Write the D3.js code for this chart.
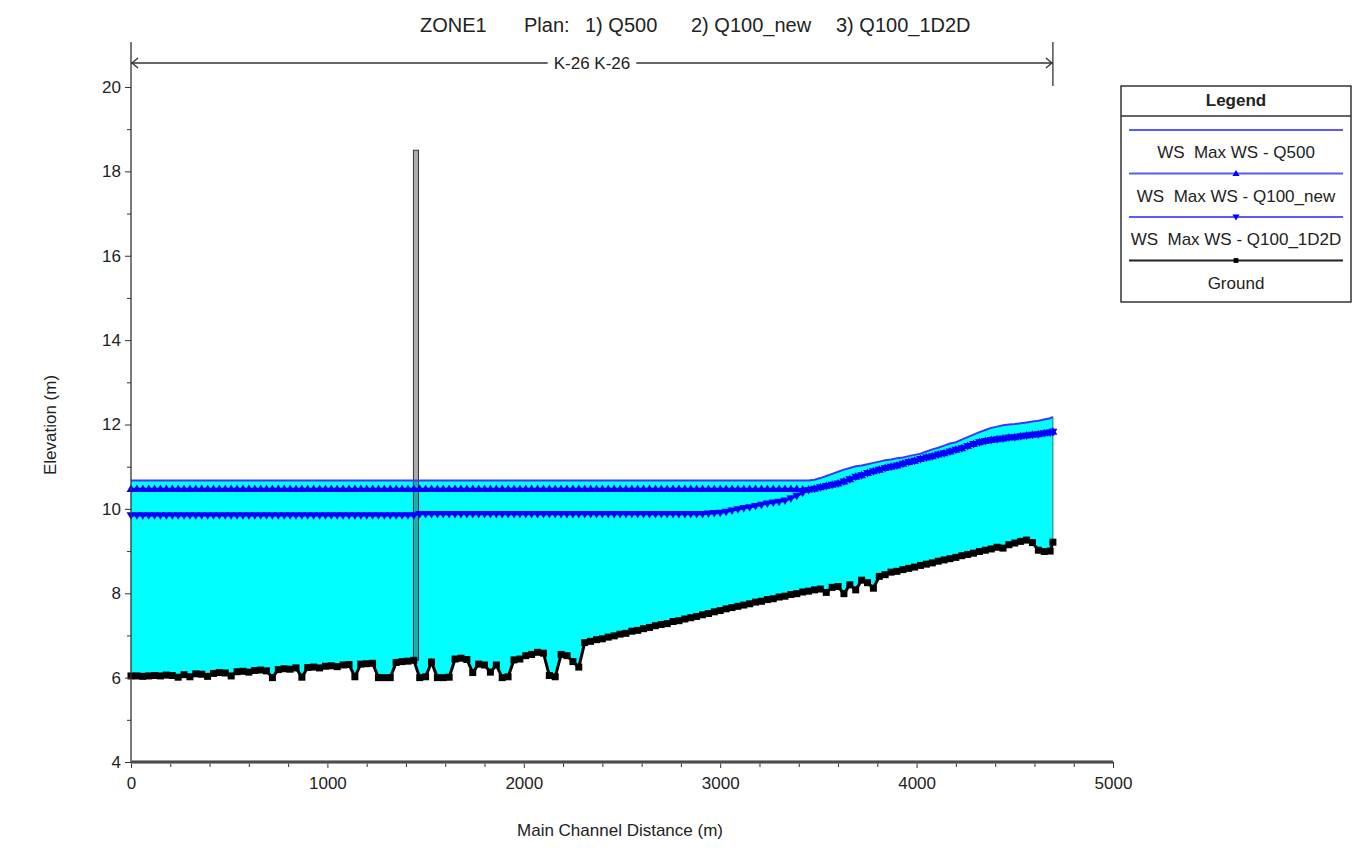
<!DOCTYPE html>
<html>
<head>
<meta charset="utf-8">
<script src="https://cdn.jsdelivr.net/npm/d3@7"></script>
<style>
body { margin: 0; background: #fff; }
text { font-family: "Liberation Sans", Arial, sans-serif; fill: #222; }
</style>
</head>
<body>
<svg id="chart" width="1369" height="851"></svg>
<script>
// profile data (station in m, elevation in m)
var stations = [
  0, 30, 60, 90, 120, 150, 180, 210, 240, 270,
  300, 330, 360, 390, 420, 450, 480, 510, 540, 570,
  600, 630, 660, 690, 720, 750, 780, 810, 840, 870,
  900, 930, 960, 990, 1020, 1050, 1080, 1110, 1140, 1170,
  1200, 1230, 1260, 1290, 1320, 1350, 1380, 1410, 1440, 1470,
  1500, 1530, 1560, 1590, 1620, 1650, 1680, 1710, 1740, 1770,
  1800, 1830, 1860, 1890, 1920, 1950, 1980, 2010, 2040, 2070,
  2100, 2130, 2160, 2190, 2220, 2250, 2280, 2310, 2340, 2370,
  2400, 2430, 2460, 2490, 2520, 2550, 2580, 2610, 2640, 2670,
  2700, 2730, 2760, 2790, 2820, 2850, 2880, 2910, 2940, 2970,
  3000, 3030, 3060, 3090, 3120, 3150, 3180, 3210, 3240, 3270,
  3300, 3330, 3360, 3390, 3420, 3450, 3480, 3510, 3540, 3570,
  3600, 3630, 3660, 3690, 3720, 3750, 3780, 3810, 3840, 3870,
  3900, 3930, 3960, 3990, 4020, 4050, 4080, 4110, 4140, 4170,
  4200, 4230, 4260, 4290, 4320, 4350, 4380, 4410, 4440, 4470,
  4500, 4530, 4560, 4590, 4620, 4650, 4680, 4694
];

var ground = [
  6.04, 6.04, 6.03, 6.04, 6.05, 6.04, 6.06, 6.05, 6.01, 6.07,
  6.02, 6.09, 6.08, 6.03, 6.10, 6.12, 6.11, 6.04, 6.14, 6.15,
  6.13, 6.17, 6.18, 6.16, 6.00, 6.19, 6.21, 6.20, 6.23, 6.01,
  6.24, 6.25, 6.23, 6.27, 6.28, 6.26, 6.30, 6.31, 6.02, 6.32,
  6.33, 6.34, 6.00, 6.00, 6.00, 6.36, 6.38, 6.39, 6.41, 6.00,
  6.02, 6.37, 6.00, 6.00, 6.01, 6.44, 6.46, 6.43, 6.12, 6.32,
  6.30, 6.13, 6.30, 6.00, 6.02, 6.42, 6.44, 6.52, 6.55, 6.60,
  6.58, 6.05, 6.02, 6.55, 6.52, 6.38, 6.25, 6.83, 6.86, 6.90,
  6.92, 6.96, 6.99, 7.03, 7.05, 7.10, 7.12, 7.16, 7.19, 7.23,
  7.26, 7.28, 7.33, 7.35, 7.39, 7.42, 7.45, 7.49, 7.52, 7.56,
  7.59, 7.63, 7.66, 7.69, 7.72, 7.75, 7.79, 7.81, 7.85, 7.87,
  7.91, 7.93, 7.97, 7.99, 8.03, 8.05, 8.08, 8.10, 8.02, 8.14,
  8.16, 7.99, 8.20, 8.08, 8.31, 8.25, 8.12, 8.40, 8.44, 8.50,
  8.52, 8.56, 8.59, 8.62, 8.66, 8.69, 8.72, 8.76, 8.79, 8.82,
  8.85, 8.89, 8.92, 8.95, 8.99, 9.02, 9.05, 9.09, 9.07, 9.15,
  9.19, 9.23, 9.26, 9.20, 9.02, 8.99, 9.00, 9.21
];

var ws_q500 = [
  10.67, 10.67, 10.67, 10.67, 10.67, 10.67, 10.67, 10.67, 10.67, 10.67,
  10.67, 10.67, 10.67, 10.67, 10.67, 10.67, 10.67, 10.67, 10.67, 10.67,
  10.67, 10.67, 10.67, 10.67, 10.67, 10.67, 10.67, 10.67, 10.67, 10.67,
  10.67, 10.67, 10.67, 10.67, 10.67, 10.67, 10.67, 10.67, 10.67, 10.67,
  10.67, 10.67, 10.67, 10.67, 10.67, 10.67, 10.67, 10.67, 10.67, 10.67,
  10.67, 10.67, 10.67, 10.67, 10.67, 10.67, 10.67, 10.67, 10.67, 10.67,
  10.67, 10.67, 10.67, 10.67, 10.67, 10.67, 10.67, 10.67, 10.67, 10.67,
  10.67, 10.67, 10.67, 10.67, 10.67, 10.67, 10.67, 10.67, 10.67, 10.67,
  10.67, 10.67, 10.67, 10.67, 10.67, 10.67, 10.67, 10.67, 10.67, 10.67,
  10.67, 10.67, 10.67, 10.67, 10.67, 10.67, 10.67, 10.67, 10.67, 10.67,
  10.67, 10.67, 10.67, 10.67, 10.67, 10.67, 10.67, 10.67, 10.67, 10.67,
  10.67, 10.67, 10.67, 10.67, 10.67, 10.67, 10.69, 10.73, 10.78, 10.83,
  10.88, 10.93, 10.97, 11.01, 11.03, 11.06, 11.09, 11.12, 11.15, 11.17,
  11.20, 11.22, 11.25, 11.28, 11.31, 11.36, 11.41, 11.45, 11.50, 11.55,
  11.58, 11.64, 11.70, 11.76, 11.82, 11.87, 11.92, 11.95, 11.98, 12.00,
  12.01, 12.03, 12.05, 12.07, 12.09, 12.12, 12.15, 12.18
];

var ws_q100_new = [
  10.47, 10.47, 10.47, 10.47, 10.47, 10.47, 10.47, 10.47, 10.47, 10.47,
  10.47, 10.47, 10.47, 10.47, 10.47, 10.47, 10.47, 10.47, 10.47, 10.47,
  10.47, 10.47, 10.47, 10.47, 10.47, 10.47, 10.47, 10.47, 10.47, 10.47,
  10.47, 10.47, 10.47, 10.47, 10.47, 10.47, 10.47, 10.47, 10.47, 10.47,
  10.47, 10.47, 10.47, 10.47, 10.47, 10.47, 10.47, 10.47, 10.47, 10.47,
  10.47, 10.47, 10.47, 10.47, 10.47, 10.47, 10.47, 10.47, 10.47, 10.47,
  10.47, 10.47, 10.47, 10.47, 10.47, 10.47, 10.47, 10.47, 10.47, 10.47,
  10.47, 10.47, 10.47, 10.47, 10.47, 10.47, 10.47, 10.47, 10.47, 10.47,
  10.47, 10.47, 10.47, 10.47, 10.47, 10.47, 10.47, 10.47, 10.47, 10.47,
  10.47, 10.47, 10.47, 10.47, 10.47, 10.47, 10.47, 10.47, 10.47, 10.47,
  10.47, 10.47, 10.47, 10.47, 10.47, 10.47, 10.47, 10.47, 10.47, 10.47,
  10.47, 10.47, 10.47, 10.47, 10.46, 10.46, 10.48, 10.51, 10.54, 10.57,
  10.60, 10.65, 10.70, 10.76, 10.80, 10.85, 10.89, 10.93, 10.97, 11.00,
  11.03, 11.07, 11.11, 11.14, 11.18, 11.22, 11.25, 11.29, 11.32, 11.36,
  11.40, 11.44, 11.49, 11.54, 11.58, 11.61, 11.63, 11.65, 11.67, 11.69,
  11.70, 11.72, 11.74, 11.76, 11.77, 11.79, 11.81, 11.83
];

var ws_q100_1d2d = [
  9.85, 9.85, 9.85, 9.85, 9.85, 9.85, 9.85, 9.85, 9.85, 9.85,
  9.85, 9.85, 9.85, 9.85, 9.85, 9.85, 9.85, 9.85, 9.85, 9.85,
  9.85, 9.85, 9.85, 9.85, 9.85, 9.85, 9.85, 9.85, 9.85, 9.85,
  9.85, 9.85, 9.85, 9.85, 9.85, 9.85, 9.85, 9.85, 9.85, 9.85,
  9.85, 9.85, 9.85, 9.85, 9.85, 9.85, 9.85, 9.85, 9.85, 9.88,
  9.88, 9.88, 9.88, 9.88, 9.88, 9.88, 9.88, 9.88, 9.88, 9.88,
  9.88, 9.88, 9.88, 9.88, 9.88, 9.88, 9.88, 9.88, 9.88, 9.88,
  9.88, 9.88, 9.88, 9.88, 9.88, 9.88, 9.88, 9.88, 9.88, 9.88,
  9.88, 9.88, 9.88, 9.88, 9.88, 9.88, 9.88, 9.88, 9.88, 9.88,
  9.88, 9.88, 9.88, 9.88, 9.88, 9.88, 9.88, 9.88, 9.89, 9.90,
  9.91, 9.93, 9.96, 9.99, 10.02, 10.04, 10.07, 10.10, 10.13, 10.15,
  10.17, 10.20, 10.25, 10.31, 10.38, 10.45, 10.48, 10.51, 10.54, 10.57,
  10.60, 10.65, 10.70, 10.76, 10.80, 10.85, 10.89, 10.93, 10.97, 11.00,
  11.03, 11.07, 11.11, 11.14, 11.18, 11.22, 11.25, 11.29, 11.32, 11.36,
  11.40, 11.44, 11.49, 11.54, 11.58, 11.61, 11.63, 11.65, 11.67, 11.69,
  11.70, 11.72, 11.74, 11.76, 11.77, 11.79, 11.81, 11.83
];

// inline structure near 1450 m
var bridge_sta = [1438, 1464];
var bridge_top = 18.5;

var x_ticks = [0, 1000, 2000, 3000, 4000, 5000];
var y_ticks = [4, 6, 8, 10, 12, 14, 16, 18, 20];
var title_parts = ["ZONE1", "Plan:", "1) Q500", "2) Q100_new", "3) Q100_1D2D"];
var title_x = [420, 524, 585, 691, 836];
var reach_label = "K-26 K-26";
var legend_labels = ["WS  Max WS - Q500", "WS  Max WS - Q100_new", "WS  Max WS - Q100_1D2D", "Ground"];

var chart = d3.select("#chart");

var x = d3.scaleLinear().domain([0, 5000]).range([131, 1113]);
var y = d3.scaleLinear().domain([4, 20]).range([762, 87]);

var rows = stations.map(function (s, i) {
  return { sta: s, gr: ground[i], q500: ws_q500[i], qnew: ws_q100_new[i], q1d2d: ws_q100_1d2d[i] };
});

var blue = "#0000ff";
var line_blue = "#3a3aff";

// water fill between ground and highest water surface
chart.append("path")
     .datum(rows)
     .attr("d", d3.area().x(function (d) { return x(d.sta); })
                         .y0(function (d) { return y(d.gr); })
                         .y1(function (d) { return y(d.q500); }))
     .attr("fill", "#00ffff");

// right edge of the water
var last = rows[rows.length - 1];
chart.append("line")
     .attr("x1", x(last.sta)).attr("x2", x(last.sta))
     .attr("y1", y(last.q500)).attr("y2", y(last.gr))
     .attr("stroke", "#2f6f6f").attr("stroke-width", 1);

// structure
var bridge_ground = ground[stations.indexOf(1440)];
chart.append("rect")
     .attr("x", x(bridge_sta[0]))
     .attr("y", y(bridge_top))
     .attr("width", x(bridge_sta[1]) - x(bridge_sta[0]))
     .attr("height", y(bridge_ground) - y(bridge_top))
     .attr("fill", "rgba(70,70,70,0.45)")
     .attr("stroke", "#333")
     .attr("stroke-width", 1);

function draw_series (key, col, width) {
  chart.append("path")
       .datum(rows)
       .attr("d", d3.line().x(function (d) { return x(d.sta); })
                           .y(function (d) { return y(d[key]); }))
       .attr("fill", "none")
       .attr("stroke", col)
       .attr("stroke-width", width);
}

var tri_up = "M0,-4.5L4.5,3L-4.5,3Z";
var tri_down = "M0,4.5L4.5,-3L-4.5,-3Z";
var square = "M-3.5,-3.5h7v7h-7Z";

function draw_markers (key, shape, col) {
  chart.append("g").selectAll("path")
       .data(rows)
       .enter().append("path")
       .attr("transform", function (d) { return "translate(" + x(d.sta) + "," + y(d[key]) + ")"; })
       .attr("d", shape)
       .attr("fill", col);
}

draw_series("q500", line_blue, 2);
draw_series("qnew", blue, 2.5);
draw_markers("qnew", tri_up, blue);
draw_series("q1d2d", blue, 2.5);
draw_markers("q1d2d", tri_down, blue);
draw_series("gr", "#000", 3);
draw_markers("gr", square, "#000");

// axes
var font = "\"Liberation Sans\", Arial, sans-serif";

function style_axis (g) {
  g.select(".domain").remove();
  g.selectAll("line").attr("stroke", "#333");
  g.selectAll("text").attr("font-size", 17).attr("font-family", font).attr("fill", "#222");
}

chart.append("g")
     .attr("transform", "translate(0," + y(4) + ")")
     .call(d3.axisBottom(x).tickValues(x_ticks).tickSize(6).tickPadding(9).tickFormat(d3.format("d")))
     .call(style_axis);
chart.append("g")
     .attr("transform", "translate(0," + y(4) + ")")
     .call(d3.axisBottom(x).tickValues(d3.range(200, 5000, 200).filter(function (v) { return v % 1000; }))
                           .tickSize(5).tickFormat(""))
     .call(style_axis);

chart.append("g")
     .attr("transform", "translate(" + x(0) + ",0)")
     .call(d3.axisLeft(y).tickValues(y_ticks).tickSize(6).tickPadding(4).tickFormat(d3.format("d")))
     .call(style_axis);
chart.append("g")
     .attr("transform", "translate(" + x(0) + ",0)")
     .call(d3.axisLeft(y).tickValues(d3.range(5, 20, 2)).tickSize(4).tickFormat(""))
     .call(style_axis);

// axis lines
chart.append("line")
     .attr("x1", x(0)).attr("x2", x(0)).attr("y1", 42).attr("y2", y(4))
     .attr("stroke", "#333").attr("stroke-width", 1.3);
chart.append("line")
     .attr("x1", x(0)).attr("x2", x(5000)).attr("y1", y(4)).attr("y2", y(4))
     .attr("stroke", "#777").attr("stroke-width", 3.5);
chart.append("line")
     .attr("x1", x(0)).attr("x2", x(5000)).attr("y1", y(4)).attr("y2", y(4))
     .attr("stroke", "#222").attr("stroke-width", 1);

// reach bracket
var rx0 = x(stations[0]), rx1 = x(stations[stations.length - 1]), ry = 63;
chart.append("line").attr("x1", rx0).attr("x2", rx1).attr("y1", ry).attr("y2", ry)
     .attr("stroke", "#333").attr("stroke-width", 1.3);
chart.append("line").attr("x1", rx1).attr("x2", rx1).attr("y1", 42).attr("y2", 86)
     .attr("stroke", "#333").attr("stroke-width", 1.3);
chart.append("path")
     .attr("d", "M" + (rx0 + 7) + "," + (ry - 5) + "L" + (rx0 + 1) + "," + ry + "L" + (rx0 + 7) + "," + (ry + 5) +
                "M" + (rx1 - 7) + "," + (ry - 5) + "L" + (rx1 - 1) + "," + ry + "L" + (rx1 - 7) + "," + (ry + 5))
     .attr("fill", "none").attr("stroke", "#333").attr("stroke-width", 1.3);
var reach_bg = chart.append("rect").attr("fill", "#fff");
var reach_text = chart.append("text")
     .attr("x", (rx0 + rx1) / 2).attr("y", ry + 6)
     .attr("text-anchor", "middle").attr("font-size", 17)
     .text(reach_label);
var bb = reach_text.node().getBBox();
reach_bg.attr("x", bb.x - 6).attr("y", bb.y).attr("width", bb.width + 12).attr("height", bb.height);

// title
chart.selectAll("text.title")
     .data(title_parts)
     .enter().append("text")
     .attr("class", "title")
     .attr("x", function (d, i) { return title_x[i]; })
     .attr("y", 32)
     .attr("font-size", 20)
     .text(function (d) { return d; });

// axis titles
chart.append("text")
     .attr("x", 620).attr("y", 836)
     .attr("text-anchor", "middle").attr("font-size", 17)
     .text("Main Channel Distance (m)");
chart.append("text")
     .attr("transform", "translate(56,425) rotate(-90)")
     .attr("text-anchor", "middle").attr("font-size", 17)
     .text("Elevation (m)");

// legend
var lg = chart.append("g").attr("transform", "translate(1121,86)");
lg.append("rect").attr("width", 230).attr("height", 216)
  .attr("fill", "#fff").attr("stroke", "#333").attr("stroke-width", 1.5);
lg.append("line").attr("x1", 0).attr("x2", 230).attr("y1", 30).attr("y2", 30)
  .attr("stroke", "#333").attr("stroke-width", 1.5);
lg.append("text").attr("x", 115).attr("y", 20).attr("text-anchor", "middle")
  .attr("font-size", 17).attr("font-weight", "bold").text("Legend");

var lg_cols = ["#5a5aff", "#5a5aff", "#5a5aff", "#222"];
var lg_marks = [null, tri_up, tri_down, "M-3,-3h6v6h-6Z"];
var lg_mark_cols = [blue, blue, blue, "#000"];
legend_labels.forEach(function (lab, i) {
  var ly = 44 + i * 43.5;
  lg.append("line").attr("x1", 8).attr("x2", 222).attr("y1", ly).attr("y2", ly)
    .attr("stroke", lg_cols[i]).attr("stroke-width", 2);
  if (lg_marks[i]) {
    lg.append("path").attr("d", lg_marks[i])
      .attr("transform", "translate(115," + ly + ") scale(0.8)")
      .attr("fill", lg_mark_cols[i]);
  }
  lg.append("text").attr("x", 115).attr("y", ly + 28)
    .attr("text-anchor", "middle").attr("font-size", 17)
    .style("white-space", "pre")
    .text(lab);
});
</script>
</body>
</html>
